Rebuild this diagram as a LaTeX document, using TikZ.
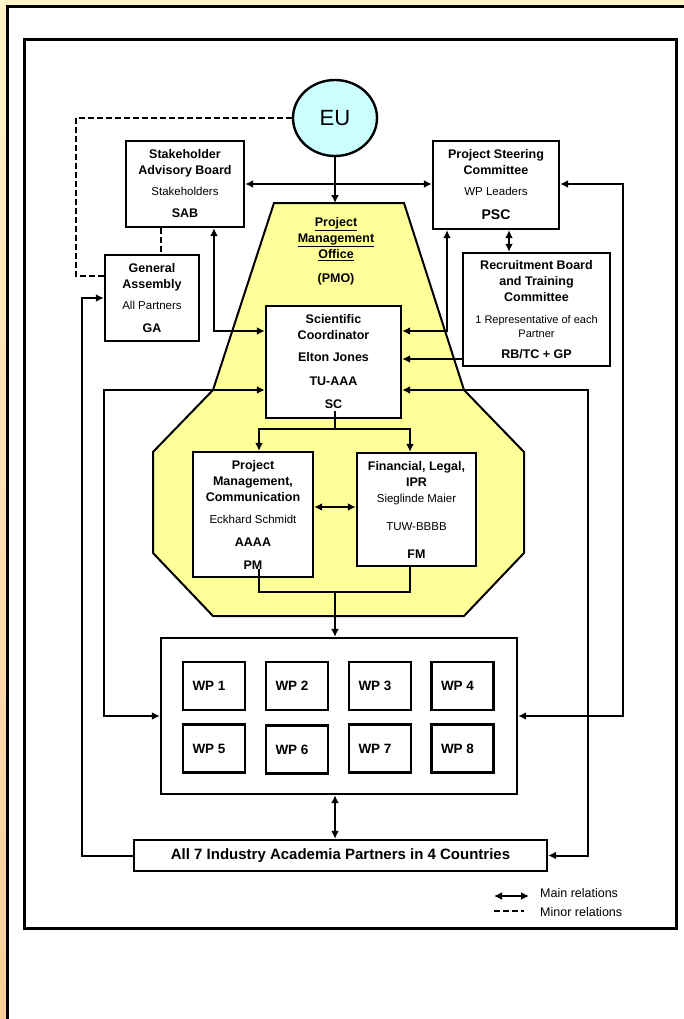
\documentclass[tikz,border=0pt]{standalone}
\usepackage{fontspec}
\setmainfont{Liberation Sans}
\usetikzlibrary{shapes.geometric,arrows.meta}
\definecolor{eucyan}{RGB}{204,255,255}
\definecolor{pmoyellow}{RGB}{255,255,153}
\definecolor{bgtop}{RGB}{255,244,200}
\definecolor{bgbottom}{RGB}{255,204,153}
\newcommand{\lite}[1]{{\mdseries\fontsize{11.5}{16}\selectfont #1}}
\newcommand{\litesmall}[1]{{\mdseries\fontsize{11}{16}\selectfont #1}}

\begin{document}
\begin{tikzpicture}
	[x=1pt,y=-1pt,>={Latex[length=8pt,width=8pt]},
	 box/.style={draw,line width=2.4pt,fill=white,align=center,inner sep=0pt,
	   font=\bfseries\fontsize{12.5}{16}\selectfont},
	 wpbox/.style={draw,line width=2.4pt,fill=white,inner sep=0pt,minimum width=62pt,
	   minimum height=48pt,font=\bfseries\fontsize{13.5}{16}\selectfont},
	 pmoarea/.style={draw,line width=2pt,fill=pmoyellow},
	 rel/.style={<->,line width=2pt},
	 one/.style={->,line width=2pt},
	 minor/.style={line width=2pt,dash pattern=on 6pt off 3pt}]
	\useasboundingbox (0,0) rectangle (684,1019);

	% draw the page background and the frames
	\shade[top color=bgtop,bottom color=bgbottom] (0,0) rectangle (684,1019);
	\fill[white] (7,7) rectangle (684,1019);
	\draw[line width=3pt] (7,1019) -- (7,7) -- (684,7);
	\draw[line width=3pt] (24,40) rectangle (676,928);

	% draw the project management office
	\draw[pmoarea] (274,203) -- (404,203) -- (464,390) -- (524,452) -- (524,553)
	  -- (464,616) -- (213,616) -- (153,553) -- (153,452) -- (213,390) -- cycle;
	\coordinate (pmotop) at (335,203);
	\node[align=center,font=\bfseries\fontsize{12.5}{16}\selectfont] (pmolabel) at (336,251)
	  {\underline{Project}\\\underline{Management}\\\underline{Office}\\[8pt](PMO)};

	% draw the bodies
	\node[draw,ellipse,line width=2.4pt,fill=eucyan,minimum width=84pt,minimum height=76pt,
	  font=\fontsize{22}{24}\selectfont] (eu) at (335,118) {EU};
	\node[box,minimum width=118pt,minimum height=86pt] (sab) at (185,184)
	  {Stakeholder\\Advisory Board\\[5pt]\lite{Stakeholders}\\[6pt]SAB};
	\node[box,minimum width=126pt,minimum height=88pt] (psc) at (496,185)
	  {Project Steering\\Committee\\[5pt]\lite{WP Leaders}\\[8pt]{\fontsize{14}{16}\selectfont PSC}};
	\node[box,minimum width=94pt,minimum height=86pt] (ga) at (152,298)
	  {General\\Assembly\\[5pt]\lite{All Partners}\\[7pt]GA};
	\node[box,minimum width=147pt,minimum height=113pt] (rb) at (536.5,309.5)
	  {Recruitment Board\\and Training\\Committee\\[6pt]\litesmall{1 Representative of each}\\[-2pt]\litesmall{Partner}\\[5pt]RB/TC + GP};
	\node[box,minimum width=135pt,minimum height=112pt] (sc) at (333.5,362)
	  {Scientific\\Coordinator\\[6pt]Elton Jones\\[8pt]TU-AAA\\[7pt]SC};
	\node[box,minimum width=120pt,minimum height=125pt] (pm) at (253,514.5)
	  {Project\\Management,\\Communication\\[6pt]\lite{Eckhard Schmidt}\\[7pt]AAAA\\[7pt]PM};
	\node[box,minimum width=119pt,minimum height=113pt] (fm) at (416.5,509.5)
	  {Financial, Legal,\\IPR\\\lite{Sieglinde Maier}\\[12pt]\lite{TUW-BBBB}\\[12pt]FM};

	% draw the work packages
	\node[draw,line width=2.4pt,fill=white,inner sep=0pt,minimum width=356pt,minimum height=156pt] (wpall) at (339,716) {};
	\foreach \i/\x/\y in {1/214/686,2/297/686,3/380/686,4/462.5/686,
	                      5/214/748.5,6/297/749.5,7/380/748.5,8/462.5/748.5}
	  \node[wpbox] (wp\i) at (\x,\y) {WP \i\hspace*{10pt}};
	\node[box,minimum width=413pt,minimum height=31pt,font=\bfseries\fontsize{15}{18}\selectfont] (ap) at (340.5,855.5)
	  {All 7 Industry Academia Partners in 4 Countries};

	% draw the minor relations
	\draw[minor] (eu.west) -| (76,276) -- (ga.west |- 0,276);
	\draw[minor] (sab.south -| 161,0) -- (ga.north -| 161,0);

	% draw the main relations
	\draw[one] (eu.south) -- (pmotop);
	\draw[rel] (sab.east |- 0,184) -- (psc.west |- 0,184);
	\draw[rel] (psc.south -| 509,0) -- (rb.north -| 509,0);
	\draw[rel] (psc.east |- 0,184) -| ([xshift=105pt]wpall.east) -- (wpall.east);
	\draw[rel] (sab.south -| 214,0) |- (sc.west |- 0,331);
	\draw[rel] (psc.south -| 447,0) |- (sc.east |- 0,331);
	\draw[one] (rb.west |- 0,359) -- (sc.east |- 0,359);
	\draw[rel] (sc.west |- 0,390) -| ([xshift=-56pt]wpall.west) -- (wpall.west);
	\draw[rel] (sc.east |- 0,390) -| ([xshift=40pt]ap.east) -- (ap.east);
	\draw[one] (ap.west) -| ([xshift=-22pt]ga.west) -- (ga.west);

	% draw the office links
	\draw[line width=2pt] ([yshift=8pt]sc.south -| 335,0) -- (335,429) coordinate (fork);
	\draw[one] (fork) -| (pm.north -| 259,0);
	\draw[one] (fork) -| (fm.north -| 410,0);
	\draw[rel] (pm.east |- 0,507) -- (fm.west |- 0,507);
	\coordinate (join) at (335,592);
	\draw[line width=2pt] ([yshift=9pt]pm.south -| 259,0) |- (join) -| (fm.south -| 410,0);
	\draw[one] (join) -- (wpall.north -| join);
	\draw[rel] (wpall.south -| 335,0) -- (ap.north -| 335,0);

	% draw the legend
	\coordinate (mainA) at (494,896);
	\coordinate (mainB) at (529,896);
	\coordinate (minorA) at (494,911);
	\coordinate (minorB) at (524,911);
	\draw[rel,line width=2.4pt] (mainA) -- (mainB);
	\draw[minor] (minorA) -- (minorB);
	\node[anchor=west,inner sep=0pt,font=\fontsize{12.5}{15}\selectfont] (mainlbl) at (540,893) {Main relations};
	\node[anchor=west,inner sep=0pt,font=\fontsize{12.5}{15}\selectfont] (minorlbl) at (540,912) {Minor relations};
\end{tikzpicture}
\end{document}
